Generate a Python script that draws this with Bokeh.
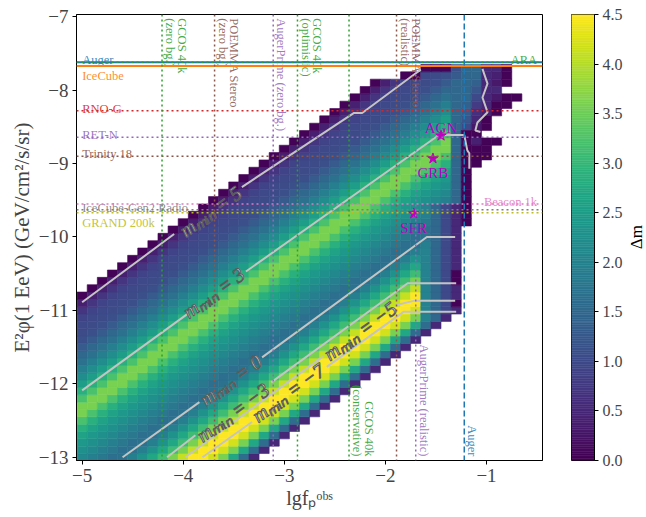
import numpy as np
from bokeh.plotting import figure
from bokeh.layouts import row
from bokeh.models import (ColumnDataSource, LinearColorMapper, FixedTicker,
                          PrintfTickFormatter, CustomJSTickFormatter, Range1d, Span)
from bokeh.palettes import Viridis256
from bokeh.transform import transform
from bokeh.core.properties import value
from bokeh.embed import file_html
from bokeh.resources import INLINE

# ---------------------------------------------------------------- data
# Δm along the diagonal band; index k = 0 is the upper-left edge, each step is
# 0.1 further down in (lgφ - lgf)
band_dm = [0.05, 0.4, 0.7, 0.9, 1.0, 1.05, 1.1, 1.3, 1.5, 1.7,
           1.95, 2.2, 2.5, 2.85, 3.2, 3.6, 3.6, 3.2, 2.85, 2.6,
           2.4, 2.25, 2.1, 1.95, 1.8, 1.65, 1.7, 1.95, 2.3, 2.7,
           3.1, 3.6, 4.1, 4.5, 4.5, 4.2, 3.6, 2.7, 1.6, 0.5]
band_top = -5.8           # lgφ - lgf of the first diagonal
grid_lgf = (-5.0, -1.3)   # cell centres, step 0.1
grid_lgphi = (-13.0, -7.7)

# darker columns at the right edge of the band (upper rows / lower rows)
edge_x = [-1.6, -1.5, -1.4, -1.3]
edge_cap_upper = [None, None, None, 1.5]
edge_cap_lower = [2.0, 1.5, 1.0, 0.5]
edge_split_y = -9.5
dark_cells = [(-1.3, -10.5), (-1.3, -10.6), (-1.3, -10.9),
              (-1.6, -7.7), (-1.5, -7.7), (-1.4, -7.7), (-1.8, -7.8), (-1.7, -7.8)]
blank_cells = [(-1.9, -7.7), (-1.8, -7.7), (-1.7, -7.7), (-2.0, -7.8), (-1.9, -7.8)]

# upper-right extension of the map
ur_x = [-1.2, -1.1, -1.0, -0.9, -0.8, -0.7]
ur_y = [-7.7, -7.8, -7.9, -8.0, -8.1, -8.2, -8.3, -8.4, -8.5, -8.6, -8.7,
        -8.8, -8.9, -9.0, -9.1, -9.2, -9.3, -9.4, -9.5, -9.6, -9.7, -9.8]
ur_dm = [[1.5, 1.5, 0.5, 0.5, 0.05, None],
         [1.5, 1.5, 0.5, 0.4, 0.05, None],
         [1.5, 1.4, 0.5, 0.3, 0.05, None],
         [1.5, 1.2, 0.5, 0.5, None, None],
         [1.5, 1.0, 0.5, 0.3, 0.05, 0.05],
         [1.4, 0.8, 0.5, 0.05, 0.05, None],
         [1.3, 0.6, 0.4, 0.05, None, None],
         [1.2, 0.5, 0.05, None, None, None],
         [1.0, 0.3, 0.05, None, None, None],
         [0.05, 0.05, None, None, None, None],
         [0.1, 0.4, 0.05, 0.05, None, None],
         [0.05, 0.05, 0.05, None, None, None],
         [0.05, 0.05, 0.05, None, None, None],
         [0.05, 0.05, None, None, None, None],
         [0.05, None, None, None, None, None],
         [0.05, None, None, None, None, None],
         [0.05, None, None, None, None, None],
         [0.05, None, None, None, None, None],
         [0.05, None, None, None, None, None],
         [0.05, None, None, None, None, None],
         [0.05, None, None, None, None, None],
         [0.05, None, None, None, None, None]]

# contour lines of m_min (lgf, lgφ)
contour_x = [[-5.0, -4.09], [-3.42, -2.31, -2.23, -1.75, -1.65],
             [-5.0, -3.95], [-3.38, -1.47, -1.22, -1.19, -1.17, -1.17],
             [-4.60, -3.84], [-3.22, -1.59, -1.31],
             [-4.16, -3.88], [-3.13, -1.78, -1.30],
             [-3.98, -2.62], [-1.90, -1.72, -1.31],
             [-3.81, -3.32], [-2.58, -1.82, -1.30],
             [-1.04, -0.99, -1.04, -0.99, -1.09, -1.11, -1.06]]
contour_y = [[-10.89, -9.96], [-9.32, -8.31, -8.31, -7.82, -7.72],
             [-12.09, -11.04], [-10.47, -8.61, -8.61, -8.82, -8.86, -9.07],
             [-13.0, -12.25], [-11.64, -10.0, -10.0],
             [-13.0, -12.70], [-11.98, -10.63, -10.63],
             [-13.0, -11.63], [-10.93, -10.87, -10.87],
             [-13.0, -12.52], [-11.77, -11.02, -11.02],
             [-7.71, -7.91, -8.10, -8.30, -8.44, -8.55, -8.57]]
clabel_text = ["m\u2098\u1d62\u2099 = 5", "m\u2098\u1d62\u2099 = 3", "m\u2098\u1d62\u2099 = 0",
               "m\u2098\u1d62\u2099 = \u22123", "m\u2098\u1d62\u2099 = \u22125", "m\u2098\u1d62\u2099 = \u22127"]
clabel_x = [-3.73, -3.70, -3.53, -3.51, -2.25, -2.96]
clabel_y = [-9.65, -10.76, -11.95, -12.39, -11.28, -12.12]

# horizontal experiment sensitivities
h_name = ["Auger", "ARA", "IceCube", "RNO-G", "RET-N", "Trinity 18",
          "Beacon 1k", "IceCube-Gen2 Radio", "GRAND 200k"]
h_y = [-7.62, -7.62, -7.67, -8.28, -8.64, -8.90, -9.55, -9.63, -9.67]
h_color = ["#1f77b4", "#2ca02c", "#ff7f0e", "#d62728", "#9467bd", "#8c564b",
           "#e377c2", "#7f7f7f", "#bcbd22"]
h_style = ["solid", "dotted", "solid", "dotted", "dotted", "dotted", "dotted", "dotted", "dotted"]
h_label_side = ["left", "right", "left", "left", "left", "left", "right", "left", "left"]
h_label_above = [True, True, False, True, True, True, True, True, False]

# vertical experiment sensitivities
v_lines = [["GCOS 40k", "(zero bg.)"], ["POEMMA Stereo", "(zero bg.)"],
           ["AugerPrime (zero bg.)"], ["GCOS 40k", "(optimistic)"],
           ["GCOS 40k", "(conservative)"], ["POEMMA Stereo", "(realistic)"],
           ["AugerPrime (realistic)"], ["Auger"]]
v_x = [-4.21, -3.69, -3.11, -2.87, -2.36, -1.89, -1.70, -1.22]
v_color = ["#2ca02c", "#8c564b", "#9467bd", "#2ca02c", "#2ca02c", "#8c564b", "#9467bd", "#1f77b4"]
v_style = ["dotted"] * 7 + ["dashed"]
v_label_top = [True, True, True, True, False, True, False, False]

# sources
src_name = ["AGN", "GRB", "SFR"]
src_lgf = [-1.45, -1.53, -1.72]
src_lgphi = [-8.62, -8.93, -9.68]

x_ticks = [-5, -4, -3, -2, -1]
y_ticks = [-13, -12, -11, -10, -9, -8, -7]
cb_ticks = [0.0, 0.5, 1.0, 1.5, 2.0, 2.5, 3.0, 3.5, 4.0, 4.5]
dm_low, dm_high = 0.0, 4.5
cb_title = "\u0394m"

# ---------------------------------------------------------------- build cells
cells = {}
kx0, kx1 = round(grid_lgf[0] * 10), round(grid_lgf[1] * 10)
ky0, ky1 = round(grid_lgphi[0] * 10), round(grid_lgphi[1] * 10)
ktop = round(band_top * 10)
for xi in range(kx0, kx1 + 1):
    for yi in range(ky0, ky1 + 1):
        k = ktop - (yi - xi)
        if 0 <= k < len(band_dm):
            cells[(xi, yi)] = band_dm[k]
for ex, cu, cl in zip(edge_x, edge_cap_upper, edge_cap_lower):
    exi = round(ex * 10)
    for (xi, yi), v in list(cells.items()):
        if xi != exi:
            continue
        cap = cu if yi >= round(edge_split_y * 10) else cl
        if cap is not None:
            cells[(xi, yi)] = min(v, cap)
for yy, rw in zip(ur_y, ur_dm):
    for xx, v in zip(ur_x, rw):
        if v is not None:
            cells[(round(xx * 10), round(yy * 10))] = v
for xx, yy in dark_cells:
    key = (round(xx * 10), round(yy * 10))
    if key in cells:
        cells[key] = 0.05
for xx, yy in blank_cells:
    cells.pop((round(xx * 10), round(yy * 10)), None)

cx = [k[0] / 10 for k in cells]
cy = [k[1] / 10 for k in cells]
cv = list(cells.values())
cell_src = ColumnDataSource(dict(x=cx, y=cy, dm=cv))

# ---------------------------------------------------------------- figure
SERIF = "Liberation Serif"
DASH = {"solid": "solid", "dotted": "2 3", "dashed": "6 3"}

mapper = LinearColorMapper(palette=Viridis256, low=dm_low, high=dm_high)

p = figure(width=556, height=517, output_backend="svg", toolbar_location=None,
           x_range=Range1d(-5.056, -0.446), y_range=Range1d(-13.045, -6.969),
           min_border_left=76, min_border_right=14, min_border_top=14, min_border_bottom=57)
p.xgrid.visible = False
p.ygrid.visible = False
p.outline_line_color = "black"
p.outline_line_width = 1

p.rect(x="x", y="y", width=0.1, height=0.1, source=cell_src,
       fill_color=transform("dm", mapper), line_color=transform("dm", mapper), line_width=0.6)

p.multi_line(xs=contour_x, ys=contour_y, line_color="#c4c4c4", line_width=2)

for name, yv, col, sty in zip(h_name, h_y, h_color, h_style):
    p.add_layout(Span(location=yv, dimension="width", line_color=col,
                      line_dash=DASH[sty], line_width=2 if sty == "solid" else 1.5))
for xv, col, sty in zip(v_x, v_color, v_style):
    p.add_layout(Span(location=xv, dimension="height", line_color=col,
                      line_dash=DASH[sty], line_width=1.5))

# contour labels
p.text(x=clabel_x, y=clabel_y, text=clabel_text, angle=0.63,
       text_align="center", text_baseline="middle",
       text_font=value(SERIF), text_font_style="italic", text_font_size="20px",
       text_color="#e4e4e4", text_outline_color="#5a5a5a")

# horizontal labels
xl, xr = -5.0, -0.5
for name, yv, col, side, above in zip(h_name, h_y, h_color, h_label_side, h_label_above):
    p.text(x=[xl if side == "left" else xr], y=[yv + 0.03 if above else yv - 0.04],
           text=[name], text_align=side, text_baseline="alphabetic" if above else "top",
           text_font=value(SERIF), text_font_size="12.5px", text_color=col, text_alpha=0.9)

# vertical labels (rotated, reading downwards)
for lines, xv, col, top in zip(v_lines, v_x, v_color, v_label_top):
    n = len(lines)
    for i, t in enumerate(lines):
        dx = 0.012 + (n - 1 - i) * 0.115
        if top:
            p.text(x=[xv + dx], y=[-7.02], text=[t], angle=-np.pi / 2,
                   text_align="left", text_baseline="bottom",
                   text_font=value(SERIF), text_font_size="12.5px", text_color=col, text_alpha=0.9)
        else:
            p.text(x=[xv + dx], y=[-12.99], text=[t], angle=-np.pi / 2,
                   text_align="right", text_baseline="bottom",
                   text_font=value(SERIF), text_font_size="12.5px", text_color=col, text_alpha=0.9)

# sources
p.scatter(x=src_lgf, y=src_lgphi, marker="star", size=11, color="#bf00bf")
p.text(x=[src_lgf[0]], y=[src_lgphi[0] + 0.1], text=[src_name[0]], text_align="center",
       text_baseline="alphabetic", text_font=value(SERIF), text_font_size="15px", text_color="#bf00bf")
p.text(x=src_lgf[1:], y=[v - 0.09 for v in src_lgphi[1:]], text=src_name[1:], text_align="center",
       text_baseline="top", text_font=value(SERIF), text_font_size="15px", text_color="#bf00bf")

# axes
minus_fmt = CustomJSTickFormatter(code="return (tick < 0 ? '\u2212' : '') + Math.abs(tick).toFixed(0);")
for ax, ticks in ((p.xaxis, x_ticks), (p.yaxis, y_ticks)):
    ax.ticker = FixedTicker(ticks=ticks)
    ax.formatter = minus_fmt
    ax.minor_tick_line_color = None
    ax.major_tick_in = 0
    ax.major_tick_out = 4
    ax.major_label_text_font = SERIF
    ax.major_label_text_font_size = "19px"
    ax.major_label_standoff = 4
    ax.axis_label_text_font = SERIF
    ax.axis_label_text_font_style = "normal"
    ax.axis_label_standoff = 2
p.xaxis.axis_label_text_font_size = "20px"
p.yaxis.axis_label_text_font_size = "21px"
p.xaxis.axis_label = "lgf\u209a\u1d52\u1d47\u02e2"
p.yaxis.axis_label = "E\u00b2\u03c6(1 EeV) (GeV/cm\u00b2/s/sr)"

# ---------------------------------------------------------------- colour bar
cb_edges = list(np.linspace(dm_low, dm_high, len(Viridis256) + 1))
p2 = figure(width=70, height=517, output_backend="svg", toolbar_location=None,
            x_range=Range1d(0, 1), y_range=Range1d(dm_low, dm_high), y_axis_location="right",
            min_border_left=15, min_border_right=32, min_border_top=14, min_border_bottom=57)
p2.quad(left=0, right=1, bottom=cb_edges[:-1], top=cb_edges[1:],
        fill_color=list(Viridis256), line_color=list(Viridis256), line_width=0.5)
p2.xaxis.visible = False
p2.xgrid.visible = False
p2.ygrid.visible = False
p2.outline_line_color = "black"
p2.yaxis.ticker = FixedTicker(ticks=cb_ticks)
p2.yaxis.formatter = PrintfTickFormatter(format="%.1f")
p2.yaxis.minor_tick_line_color = None
p2.yaxis.major_tick_in = 0
p2.yaxis.major_tick_out = 4
p2.yaxis.major_label_standoff = 4
p2.yaxis.major_label_text_font = SERIF
p2.yaxis.major_label_text_font_size = "16px"

# colour-bar title, in its own narrow strip (pixel-like ranges)
p3 = figure(width=20, height=517, output_backend="svg", toolbar_location=None,
            x_range=Range1d(0, 20), y_range=Range1d(0, 517),
            x_axis_type=None, y_axis_type=None,
            min_border_left=0, min_border_right=0, min_border_top=0, min_border_bottom=0)
p3.grid.visible = False
p3.outline_line_color = None
p3.text(x=[10], y=[259], text=[cb_title], angle=np.pi / 2,
        text_align="center", text_baseline="middle",
        text_font=value(SERIF), text_font_size="17px", text_color="black")

open("out.html", "w").write(file_html(row(p, p2, p3), INLINE))
